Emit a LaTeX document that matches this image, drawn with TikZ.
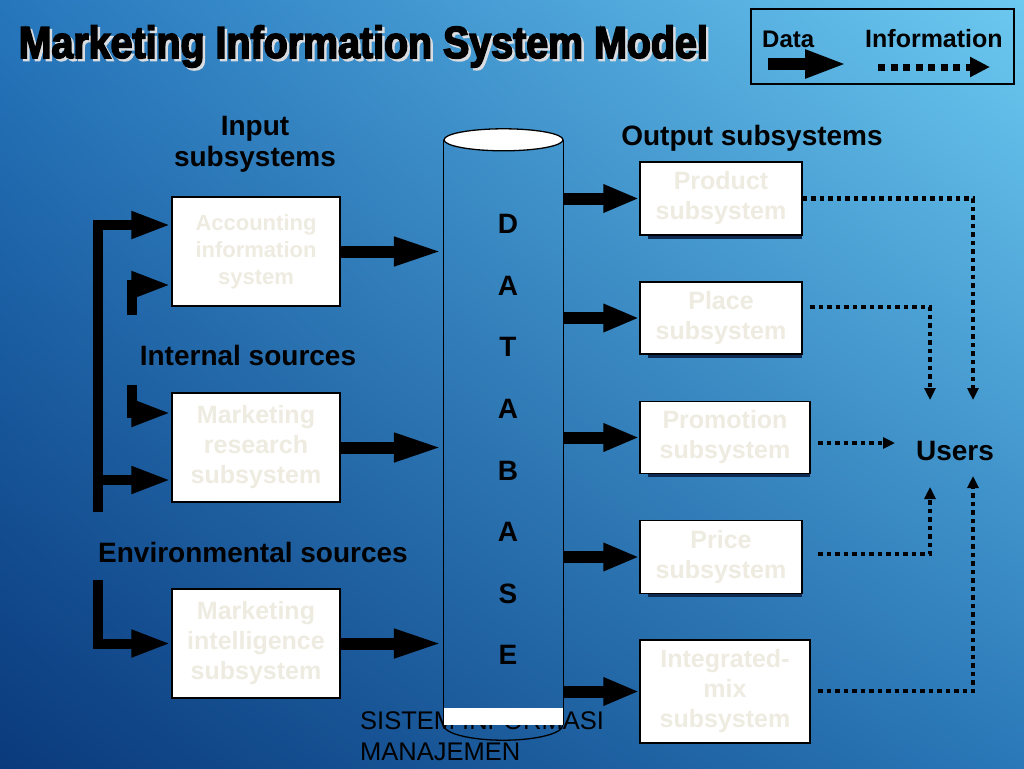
\documentclass[tikz,border=0pt]{standalone}
\usepackage{fontspec}
\setmainfont{Liberation Sans}
\newfontfamily\titlefont[FakeStretch=0.875,FakeBold=3.5]{Liberation Sans}
\usetikzlibrary{arrows.meta,calc,shadings}
\definecolor{bgUL}{HTML}{2676BC}
\definecolor{bgUR}{HTML}{6CC9F0}
\definecolor{bgLL}{HTML}{0A3A7C}
\definecolor{bgLR}{HTML}{2A78B8}
\definecolor{boxtext}{HTML}{EEEBE1}
\definecolor{shadowgray}{HTML}{D9DCE0}
\definecolor{boxshadow}{HTML}{0E2A50}
\begin{document}
\begin{tikzpicture}[x=1pt,y=-1pt,
  box/.style={draw=black, line width=1.4pt, fill=white, inner sep=0pt, align=center, text=boxtext,
    font=\bfseries\fontsize{25}{30}\selectfont},
  lab/.style={font=\bfseries\fontsize{28}{31}\selectfont, inner sep=0pt, align=center},
  dbl/.style={font=\bfseries\fontsize{28}{30}\selectfont, inner sep=0pt},
  inarrow/.style={line width=12pt, -{Triangle[length=50pt,width=26pt]}},
  outarrow/.style={line width=12pt, -{Triangle[length=36pt,width=26pt]}},
  feed/.style={line width=10pt, line join=miter, -{Triangle[length=40pt,width=25pt]}},
  infoarrow/.style={line width=4.5pt, dash pattern=on 4.5pt off 4pt, -{Triangle[length=12pt,width=11pt]}},
  thin/.style={line width=1.3pt, draw=black}]
% background
\useasboundingbox (0,0) rectangle (1024,768);
\shade[upper left=bgUL, upper right=bgUR, lower left=bgLL, lower right=bgLR] (0,0) rectangle (1024,768);

% title
\node[anchor=base west, inner sep=0pt, text=shadowgray, font=\titlefont\bfseries\fontsize{45}{50}\selectfont] (titleshadow) at (21,60.5) {Marketing Information System Model};
\node[anchor=base west, inner sep=0pt, text=black, font=\titlefont\bfseries\fontsize{45}{50}\selectfont] (title) at (18.5,58) {Marketing Information System Model};

% legend
\node[thin, minimum width=263pt, minimum height=75pt, inner sep=0pt] (legend) at (882.5,46.5) {};
\node[anchor=base west, inner sep=0pt, font=\bfseries\fontsize{24}{24}\selectfont] (datal) at (762,47.5) {Data};
\node[anchor=base west, inner sep=0pt, font=\bfseries\fontsize{25}{25}\selectfont] (infol) at (865,47.5) {Information};
\coordinate (lda) at (768,64);
\coordinate (ldb) at (847,64);
\coordinate (lia) at (878,67);
\coordinate (lib) at (990,67);
\draw[line width=12pt, -{Triangle[length=42pt,width=26pt]}] (lda) -- (ldb);
\draw[line width=7pt, dash pattern=on 7pt off 5.5pt, -{Triangle[length=20pt,width=19pt]}] (lia) -- (lib);

% labels
\node[lab, anchor=north] (inlab) at (255,116) {Input\\subsystems};
\node[lab, anchor=base] (outlab) at (752,145) {Output subsystems};
\node[lab, anchor=base] (intlab) at (248,365) {Internal sources};
\node[lab, anchor=base] (envlab) at (253,562) {Environmental sources};
\node[lab, anchor=base] (users) at (955,460) {Users};

% footer text
\node[anchor=north west, inner sep=0pt, align=left, font=\fontsize{25.5}{31}\selectfont] (footer) at (360,711) {SISTEM INFORMASI\\MANAJEMEN};

% database cylinder
\node[minimum width=119pt, minimum height=585pt, inner sep=0pt] (db) at (503.5,432.5) {};
\draw[thin] (db.north west) -- (db.south west);
\draw[thin] (db.north east) -- (db.south east);
\fill[white] (444,708) rectangle (563,725);
\draw[thin] (db.south west) arc[start angle=180, end angle=0, x radius=59.5, y radius=15];
\draw[thin, fill=white] (db.north) ellipse [x radius=59.5, y radius=11];
\foreach \l [count=\i] in {D,A,T,A,B,A,S,E}
  \node[dbl] (L\i) at (508,162.5+61.6*\i) {\l};

% input boxes
\node[box, minimum width=168pt, minimum height=109pt, font=\bfseries\fontsize{22}{27}\selectfont] (acc) at (256,251.5) {Accounting\\information\\system};
\node[box, minimum width=168pt, minimum height=109pt] (res) at (256,447.5) {Marketing\\research\\subsystem};
\node[box, minimum width=168pt, minimum height=109pt] (intel) at (256,643.5) {Marketing\\intelligence\\subsystem};

% output boxes (with shadows)
\foreach \n/\x/\y/\w/\h in {prod/721/198.5/162/73, place/721/318/162/72, promo/725/437.5/170/72, price/721/557/162/73}
  \fill[boxshadow] (\x-\w/2+8,\y+\h/2-1) rectangle (\x+\w/2,\y+\h/2+3.5);
\node[box, minimum width=162pt, minimum height=73pt] (prod) at (721,198.5) {Product\\subsystem};
\node[box, minimum width=162pt, minimum height=72pt] (place) at (721,318) {Place\\subsystem};
\node[box, minimum width=170pt, minimum height=72pt] (promo) at (725,437.5) {Promotion\\subsystem};
\node[box, minimum width=162pt, minimum height=73pt] (price) at (721,557) {Price\\subsystem};
\node[box, minimum width=170pt, minimum height=103pt] (mix) at (725,691.5) {Integrated-\\mix\\subsystem};

% feeds into input boxes
\coordinate (f1) at (98,512);
\coordinate (f1c) at (98,225);
\coordinate (f2) at (98,480);
\coordinate (f3) at (132,315);
\coordinate (f3c) at (132,285);
\coordinate (f4) at (132,385);
\coordinate (f4c) at (132,413);
\coordinate (f5) at (98,580);
\coordinate (f5c) at (98,643.5);
\draw[feed] (f1) -- (f1c) -- (f1c -| acc.west);
\draw[feed] (f2) -- (f2 -| res.west);
\draw[feed] (f3) -- (f3c) -- (f3c -| acc.west);
\draw[feed] (f4) -- (f4c) -- (f4c -| res.west);
\draw[feed] (f5) -- (f5c) -- (intel.west);

% input boxes to database
\draw[inarrow] (acc.east) -- (acc.east -| db.west);
\draw[inarrow] (res.east) -- (res.east -| db.west);
\draw[inarrow] (intel.east) -- (intel.east -| db.west);

% database to output boxes
\draw[outarrow] (db.east |- prod.west) -- (prod.west);
\draw[outarrow] (db.east |- place.west) -- (place.west);
\draw[outarrow] (db.east |- promo.west) -- (promo.west);
\draw[outarrow] (db.east |- price.west) -- (price.west);
\draw[outarrow] (db.east |- mix.west) -- (mix.west);

% information to users
\coordinate (uR) at (973,400);
\coordinate (uL) at (930,400);
\coordinate (uM) at (895,443);
\coordinate (dL) at (930,487);
\coordinate (dR) at (973,476);
\coordinate (s2) at (810,307);
\coordinate (s3) at (818,443);
\coordinate (s4) at (818,554);
\coordinate (s5) at (818,691);
\draw[infoarrow] (prod.east) -- (prod.east -| uR) -- (uR);
\draw[infoarrow] (s2) -- (s2 -| uL) -- (uL);
\draw[infoarrow] (s3) -- (uM);
\draw[infoarrow] (s4) -- (s4 -| dL) -- (dL);
\draw[infoarrow] (s5) -- (s5 -| dR) -- (dR);
\end{tikzpicture}
\end{document}
